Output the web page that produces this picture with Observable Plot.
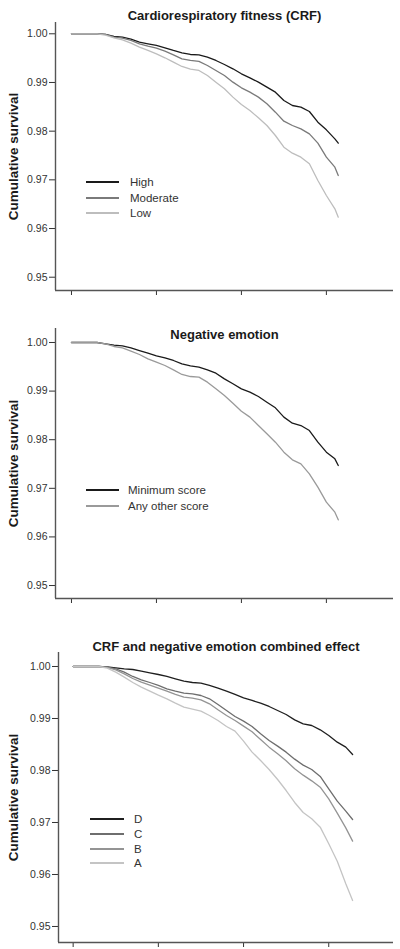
<!DOCTYPE html>
<html>
<head>
<meta charset="utf-8">
<script src="https://cdn.jsdelivr.net/npm/d3@7"></script>
<script src="https://cdn.jsdelivr.net/npm/@observablehq/plot@0.6"></script>
<style>
  html, body { margin: 0; padding: 0; background: #fff; }
  body { width: 400px; height: 949px; overflow: hidden; font-family: Arial, "Liberation Sans", sans-serif; }
  .panel { position: relative; width: 400px; }
  .panel svg { display: block; }
  .legend { position: absolute; font-size: 11.5px; color: #333; }
  .legend .row { position: absolute; left: 0; white-space: nowrap; height: 14px; }
  .legend .sw { position: absolute; left: 0; top: 6px; height: 2px; }
  .legend .lab { position: absolute; top: 0; line-height: 14px; }
</style>
</head>
<body>
<div id="chart"></div>
<script>
// ---------- Data ----------
// time grid (years, unlabeled axis) for panels 1 & 2
const timeA = [0,1,1.5,2,2.5,3,3.5,4,4.5,5,5.5,6,6.5,7,7.5,8,8.5,9,9.5,10,10.5,11,11.5,12,12.5,13,13.5,14,14.5,15,15.5,15.7];
// time grid for panel 3
const timeB = [0,1,1.5,2,2.5,3,3.5,4,4.5,5,5.5,6,6.5,7,7.5,8,8.5,9,9.5,10,10.5,11,11.5,12,12.5,13,13.5,14,14.5,15,15.5,16,16.4];

const xTicks = [0, 5, 10, 15];
const yTicks = [0.95, 0.96, 0.97, 0.98, 0.99, 1.00];
const yLabel = "Cumulative survival";

// Panel 1: Cardiorespiratory fitness
const title1 = "Cardiorespiratory fitness (CRF)";
const crfNames = ["High", "Moderate", "Low"];
const crfColors = ["#1a1a1a", "#7a7a7a", "#bdbdbd"];
const crfHigh = [1,1,1,0.99986,0.99945,0.99932,0.99890,0.99829,0.99795,0.99760,0.99712,0.99658,0.99610,0.99575,0.99568,0.99521,0.99452,0.99370,0.99281,0.99178,0.99096,0.99007,0.98904,0.98801,0.98630,0.98527,0.98493,0.98404,0.98185,0.98027,0.97842,0.97753];
const crfModerate = [1,1,1,0.99986,0.99932,0.99911,0.99863,0.99795,0.99747,0.99705,0.99644,0.99568,0.99486,0.99452,0.99432,0.99349,0.99247,0.99144,0.99007,0.98890,0.98801,0.98699,0.98562,0.98390,0.98205,0.98116,0.98048,0.97945,0.97753,0.97466,0.97260,0.97089];
const crfLow = [1,1,1,0.99973,0.99918,0.99877,0.99808,0.99726,0.99658,0.99589,0.99507,0.99418,0.99329,0.99274,0.99247,0.99144,0.99007,0.98870,0.98699,0.98548,0.98425,0.98274,0.98116,0.97911,0.97671,0.97548,0.97466,0.97329,0.96986,0.96678,0.96404,0.96233];

// Panel 2: Negative emotion
const title2 = "Negative emotion";
const neNames = ["Minimum score", "Any other score"];
const neColors = ["#1a1a1a", "#9a9a9a"];
const neMin = [1,1,1,0.99973,0.99945,0.99931,0.99890,0.99835,0.99781,0.99726,0.99684,0.99630,0.99561,0.99520,0.99492,0.99438,0.99369,0.99252,0.99150,0.99047,0.98978,0.98889,0.98772,0.98656,0.98464,0.98340,0.98292,0.98189,0.97949,0.97743,0.97606,0.97469];
const neOther = [1,1,1,0.99973,0.99918,0.99890,0.99822,0.99753,0.99664,0.99595,0.99527,0.99438,0.99342,0.99300,0.99287,0.99184,0.99047,0.98909,0.98752,0.98587,0.98464,0.98292,0.98121,0.97949,0.97743,0.97586,0.97503,0.97298,0.97023,0.96715,0.96509,0.96351];

// Panel 3: combined effect
const title3 = "CRF and negative emotion combined effect";
const combNames = ["D", "C", "B", "A"];
const combColors = ["#1f1f1f", "#6e6e6e", "#949494", "#c4c4c4"];
const combD = [1,1,1,0.99994,0.99974,0.99955,0.99942,0.99910,0.99878,0.99846,0.99808,0.99763,0.99718,0.99692,0.99679,0.99635,0.99583,0.99526,0.99462,0.99397,0.99346,0.99295,0.99231,0.99154,0.99077,0.98974,0.98897,0.98865,0.98782,0.98673,0.98545,0.98449,0.98308];
const combC = [1,1,1,0.99987,0.99955,0.99891,0.99808,0.99744,0.99692,0.99635,0.99571,0.99526,0.99487,0.99474,0.99442,0.99378,0.99269,0.99154,0.99038,0.98949,0.98846,0.98705,0.98577,0.98468,0.98353,0.98218,0.98103,0.98019,0.97885,0.97647,0.97410,0.97218,0.97058];
const combB = [1,1,1,0.99981,0.99936,0.99859,0.99769,0.99699,0.99641,0.99583,0.99526,0.99462,0.99410,0.99391,0.99359,0.99282,0.99167,0.99058,0.98962,0.98853,0.98744,0.98596,0.98449,0.98321,0.98186,0.98032,0.97910,0.97801,0.97679,0.97455,0.97179,0.96897,0.96641];
const combA = [1,1,1,0.99968,0.99891,0.99795,0.99692,0.99603,0.99526,0.99449,0.99378,0.99295,0.99218,0.99179,0.99141,0.99058,0.98962,0.98846,0.98756,0.98564,0.98353,0.98192,0.98019,0.97827,0.97615,0.97385,0.97192,0.97071,0.96910,0.96590,0.96256,0.95821,0.95500];

// ---------- Helpers ----------
function rows(time, names, series) {
  const out = [];
  names.forEach((n, i) => series[i].forEach((v, j) => out.push({t: time[j], s: v, g: n})));
  return out;
}

function panel(cfg) {
  const data = rows(cfg.time, cfg.names, cfg.series);
  const svg = Plot.plot({
    width: 400,
    height: cfg.height,
    marginTop: cfg.mt,
    marginBottom: cfg.height - cfg.axisBottom,
    marginLeft: cfg.ml,
    marginRight: 7,
    style: {fontFamily: 'Arial, "Liberation Sans", sans-serif', background: "#fff", overflow: "visible"},
    x: {domain: cfg.xDomain, axis: null},
    y: {domain: cfg.yDomain, axis: null},
    color: {domain: cfg.names, range: cfg.colors},
    marks: [
      Plot.axisY({ticks: yTicks, tickFormat: d3.format(".2f"), tickSize: 6, tickPadding: 2, fontSize: 10.5, color: "#333", label: null, stroke: "#333"}),
      Plot.axisX({ticks: xTicks, tickFormat: () => "", tickSize: 5, label: null, stroke: "#333"}),
      Plot.ruleX([cfg.xDomain[0]], {stroke: "#555", strokeWidth: 1.4}),
      Plot.ruleY([cfg.yDomain[0]], {stroke: "#555", strokeWidth: 1.4}),
      Plot.line(data, {x: "t", y: "s", z: "g", stroke: "g", strokeWidth: 1.3, curve: "linear"}),
      Plot.text([cfg.title], {frameAnchor: "top", dy: cfg.titleDy, fontWeight: "bold", fontSize: 13, fill: "#1a1a1a"}),
      Plot.text([yLabel], {frameAnchor: "left", textAnchor: "middle", dx: 13 - cfg.ml, rotate: -90, fontWeight: "bold", fontSize: 13.5, fill: "#1a1a1a"})
    ]
  });
  const wrap = document.createElement("div");
  wrap.className = "panel";
  wrap.style.height = cfg.height + "px";
  wrap.appendChild(svg);
  const leg = document.createElement("div");
  leg.className = "legend";
  leg.style.left = cfg.leg.x + "px";
  leg.style.top = cfg.leg.y + "px";
  cfg.names.forEach((n, i) => {
    const r = document.createElement("div");
    r.className = "row";
    r.style.top = (i * cfg.leg.dy) + "px";
    const sw = document.createElement("div");
    sw.className = "sw";
    sw.style.width = cfg.leg.w + "px";
    sw.style.background = cfg.colors[i];
    const lab = document.createElement("div");
    lab.className = "lab";
    lab.style.left = cfg.leg.tx + "px";
    lab.textContent = n;
    r.appendChild(sw); r.appendChild(lab);
    leg.appendChild(r);
  });
  wrap.appendChild(leg);
  return wrap;
}

const root = document.getElementById("chart");
root.appendChild(panel({
  title: title1, titleDy: -12, time: timeA, names: crfNames, colors: crfColors,
  series: [crfHigh, crfModerate, crfLow],
  height: 310, mt: 22, axisBottom: 290, ml: 55,
  xDomain: [-0.94, 18.95], yDomain: [0.94727, 1.00232],
  leg: {x: 86, y: 175, dy: 15.5, w: 33, tx: 44}
}));
root.appendChild(panel({
  title: title2, titleDy: 1, time: timeA, names: neNames, colors: neColors,
  series: [neMin, neOther],
  height: 310, mt: 18, axisBottom: 288, ml: 55,
  xDomain: [-0.94, 18.95], yDomain: [0.94733, 1.00288],
  leg: {x: 86, y: 173, dy: 16, w: 33, tx: 42}
}));
root.appendChild(panel({
  title: title3, titleDy: -11, time: timeB, names: combNames, colors: combColors,
  series: [combD, combC, combB, combA],
  height: 329, mt: 32, axisBottom: 322, ml: 58,
  xDomain: [-0.86, 18.8], yDomain: [0.94692, 1.00269],
  leg: {x: 90, y: 192, dy: 14.8, w: 34, tx: 44}
}));
</script>
</body>
</html>
